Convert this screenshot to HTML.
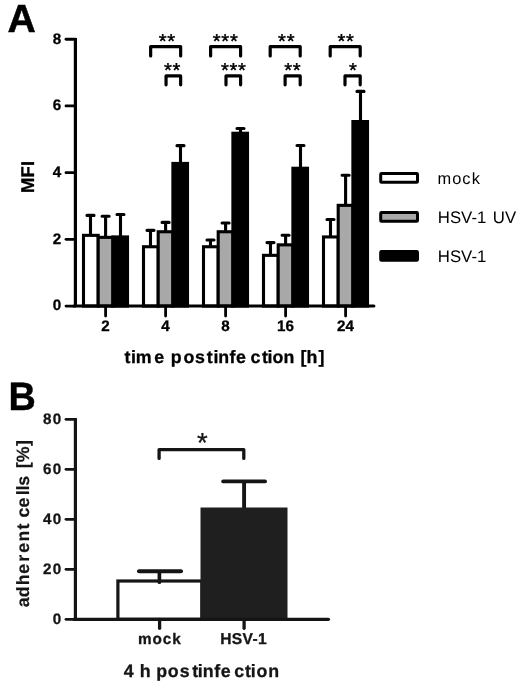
<!DOCTYPE html>
<html><head><meta charset="utf-8"><title>Figure</title>
<style>
html,body{margin:0;padding:0;background:#fff;}
body{width:520px;height:687px;overflow:hidden;font-family:"Liberation Sans",sans-serif;}
svg{display:block;will-change:transform}
text{text-rendering:geometricPrecision}
</style></head>
<body>
<svg width="520" height="687" viewBox="0 0 520 687">
<rect width="520" height="687" fill="#fff"/>
<g id="panelA">
<path d="M90.50 235.35V215.40M87.00 215.40H94.00" stroke="#000" stroke-width="3.1" stroke-linecap="round" fill="none"/>
<path d="M105.60 237.35V216.30M102.10 216.30H109.10" stroke="#000" stroke-width="3.1" stroke-linecap="round" fill="none"/>
<path d="M120.50 236.95V214.45M117.00 214.45H124.00" stroke="#000" stroke-width="3.1" stroke-linecap="round" fill="none"/>
<rect x="83.50" y="235.35" width="14.70" height="70.70" fill="#fff" stroke="#000" stroke-width="3.1"/>
<rect x="98.20" y="237.35" width="14.70" height="68.70" fill="#a8a8a8" stroke="#000" stroke-width="3.1"/>
<rect x="112.90" y="236.95" width="14.60" height="69.10" fill="#000" stroke="#000" stroke-width="3.1"/>
<path d="M150.50 246.75V230.35M147.00 230.35H154.00" stroke="#000" stroke-width="3.1" stroke-linecap="round" fill="none"/>
<path d="M165.60 231.75V222.40M162.10 222.40H169.10" stroke="#000" stroke-width="3.1" stroke-linecap="round" fill="none"/>
<path d="M180.50 163.45V145.65M177.00 145.65H184.00" stroke="#000" stroke-width="3.1" stroke-linecap="round" fill="none"/>
<rect x="143.50" y="246.75" width="14.70" height="59.30" fill="#fff" stroke="#000" stroke-width="3.1"/>
<rect x="158.20" y="231.75" width="14.70" height="74.30" fill="#a8a8a8" stroke="#000" stroke-width="3.1"/>
<rect x="172.90" y="163.45" width="14.60" height="142.60" fill="#000" stroke="#000" stroke-width="3.1"/>
<path d="M210.50 246.75V240.00M207.00 240.00H214.00" stroke="#000" stroke-width="3.1" stroke-linecap="round" fill="none"/>
<path d="M225.60 231.75V223.00M222.10 223.00H229.10" stroke="#000" stroke-width="3.1" stroke-linecap="round" fill="none"/>
<path d="M240.50 133.25V128.50M237.00 128.50H244.00" stroke="#000" stroke-width="3.1" stroke-linecap="round" fill="none"/>
<rect x="203.50" y="246.75" width="14.70" height="59.30" fill="#fff" stroke="#000" stroke-width="3.1"/>
<rect x="218.20" y="231.75" width="14.70" height="74.30" fill="#a8a8a8" stroke="#000" stroke-width="3.1"/>
<rect x="232.90" y="133.25" width="14.60" height="172.80" fill="#000" stroke="#000" stroke-width="3.1"/>
<path d="M270.50 255.35V242.60M267.00 242.60H274.00" stroke="#000" stroke-width="3.1" stroke-linecap="round" fill="none"/>
<path d="M285.60 244.85V235.30M282.10 235.30H289.10" stroke="#000" stroke-width="3.1" stroke-linecap="round" fill="none"/>
<path d="M300.50 168.25V145.45M297.00 145.45H304.00" stroke="#000" stroke-width="3.1" stroke-linecap="round" fill="none"/>
<rect x="263.50" y="255.35" width="14.70" height="50.70" fill="#fff" stroke="#000" stroke-width="3.1"/>
<rect x="278.20" y="244.85" width="14.70" height="61.20" fill="#a8a8a8" stroke="#000" stroke-width="3.1"/>
<rect x="292.90" y="168.25" width="14.60" height="137.80" fill="#000" stroke="#000" stroke-width="3.1"/>
<path d="M330.50 236.95V219.45M327.00 219.45H334.00" stroke="#000" stroke-width="3.1" stroke-linecap="round" fill="none"/>
<path d="M345.60 205.35V175.25M342.10 175.25H349.10" stroke="#000" stroke-width="3.1" stroke-linecap="round" fill="none"/>
<path d="M360.50 121.55V91.40M357.00 91.40H364.00" stroke="#000" stroke-width="3.1" stroke-linecap="round" fill="none"/>
<rect x="323.50" y="236.95" width="14.70" height="69.10" fill="#fff" stroke="#000" stroke-width="3.1"/>
<rect x="338.20" y="205.35" width="14.70" height="100.70" fill="#a8a8a8" stroke="#000" stroke-width="3.1"/>
<rect x="352.90" y="121.55" width="14.60" height="184.50" fill="#000" stroke="#000" stroke-width="3.1"/>
<path d="M75.4 38V306.05" stroke="#000" stroke-width="3.2" fill="none"/>
<path d="M73.80000000000001 306.05H373.9" stroke="#000" stroke-width="3.1" stroke-linecap="round" fill="none"/>
<path d="M66 306.05H75.4" stroke="#000" stroke-width="2.8" stroke-linecap="round" fill="none"/>
<text x="61.3" y="310.45" text-anchor="end" font-family="Liberation Sans, sans-serif" font-weight="bold" font-size="15.2" stroke="#000" stroke-width="0.3">0</text>
<path d="M66 239.35H75.4" stroke="#000" stroke-width="2.8" stroke-linecap="round" fill="none"/>
<text x="61.3" y="243.75" text-anchor="end" font-family="Liberation Sans, sans-serif" font-weight="bold" font-size="15.2" stroke="#000" stroke-width="0.3">2</text>
<path d="M66 172.65H75.4" stroke="#000" stroke-width="2.8" stroke-linecap="round" fill="none"/>
<text x="61.3" y="177.05" text-anchor="end" font-family="Liberation Sans, sans-serif" font-weight="bold" font-size="15.2" stroke="#000" stroke-width="0.3">4</text>
<path d="M66 105.95H75.4" stroke="#000" stroke-width="2.8" stroke-linecap="round" fill="none"/>
<text x="61.3" y="110.35" text-anchor="end" font-family="Liberation Sans, sans-serif" font-weight="bold" font-size="15.2" stroke="#000" stroke-width="0.3">6</text>
<path d="M66 39.25H75.4" stroke="#000" stroke-width="2.8" stroke-linecap="round" fill="none"/>
<text x="61.3" y="43.65" text-anchor="end" font-family="Liberation Sans, sans-serif" font-weight="bold" font-size="15.2" stroke="#000" stroke-width="0.3">8</text>
<path d="M105.60 306.05V316.1" stroke="#000" stroke-width="2.8" stroke-linecap="round" fill="none"/>
<text x="105.50" y="331.4" text-anchor="middle" font-family="Liberation Sans, sans-serif" font-weight="bold" font-size="15.2" stroke="#000" stroke-width="0.3">2</text>
<path d="M165.60 306.05V316.1" stroke="#000" stroke-width="2.8" stroke-linecap="round" fill="none"/>
<text x="165.50" y="331.4" text-anchor="middle" font-family="Liberation Sans, sans-serif" font-weight="bold" font-size="15.2" stroke="#000" stroke-width="0.3">4</text>
<path d="M225.60 306.05V316.1" stroke="#000" stroke-width="2.8" stroke-linecap="round" fill="none"/>
<text x="225.50" y="331.4" text-anchor="middle" font-family="Liberation Sans, sans-serif" font-weight="bold" font-size="15.2" stroke="#000" stroke-width="0.3">8</text>
<path d="M285.60 306.05V316.1" stroke="#000" stroke-width="2.8" stroke-linecap="round" fill="none"/>
<text x="285.50" y="331.4" text-anchor="middle" font-family="Liberation Sans, sans-serif" font-weight="bold" font-size="15.2" stroke="#000" stroke-width="0.3">16</text>
<path d="M345.60 306.05V316.1" stroke="#000" stroke-width="2.8" stroke-linecap="round" fill="none"/>
<text x="345.50" y="331.4" text-anchor="middle" font-family="Liberation Sans, sans-serif" font-weight="bold" font-size="15.2" stroke="#000" stroke-width="0.3">24</text>
<path d="M150.65 55.90V46.60H180.65V55.90" stroke="#000" stroke-width="3.2" stroke-linecap="round" stroke-linejoin="round" fill="none"/>
<text x="167.30" y="48.00" text-anchor="middle" font-family="Liberation Sans, sans-serif" font-size="20.2" letter-spacing="0.75" stroke="#000" stroke-width="0.4">**</text>
<path d="M166.05 84.80V75.95H180.65V84.80" stroke="#000" stroke-width="3.2" stroke-linecap="round" stroke-linejoin="round" fill="none"/>
<text x="172.60" y="77.00" text-anchor="middle" font-family="Liberation Sans, sans-serif" font-size="20.2" letter-spacing="0.75" stroke="#000" stroke-width="0.4">**</text>
<path d="M210.60 55.90V46.60H240.60V55.90" stroke="#000" stroke-width="3.2" stroke-linecap="round" stroke-linejoin="round" fill="none"/>
<text x="225.60" y="48.00" text-anchor="middle" font-family="Liberation Sans, sans-serif" font-size="20.2" letter-spacing="0.75" stroke="#000" stroke-width="0.4">***</text>
<path d="M226.00 84.80V75.95H240.60V84.80" stroke="#000" stroke-width="3.2" stroke-linecap="round" stroke-linejoin="round" fill="none"/>
<text x="233.80" y="77.00" text-anchor="middle" font-family="Liberation Sans, sans-serif" font-size="20.2" letter-spacing="0.75" stroke="#000" stroke-width="0.4">***</text>
<path d="M270.20 55.90V46.60H300.20V55.90" stroke="#000" stroke-width="3.2" stroke-linecap="round" stroke-linejoin="round" fill="none"/>
<text x="286.70" y="48.00" text-anchor="middle" font-family="Liberation Sans, sans-serif" font-size="20.2" letter-spacing="0.75" stroke="#000" stroke-width="0.4">**</text>
<path d="M285.10 84.80V75.95H300.20V84.80" stroke="#000" stroke-width="3.2" stroke-linecap="round" stroke-linejoin="round" fill="none"/>
<text x="292.80" y="77.00" text-anchor="middle" font-family="Liberation Sans, sans-serif" font-size="20.2" letter-spacing="0.75" stroke="#000" stroke-width="0.4">**</text>
<path d="M330.20 55.90V46.60H360.20V55.90" stroke="#000" stroke-width="3.2" stroke-linecap="round" stroke-linejoin="round" fill="none"/>
<text x="346.10" y="48.00" text-anchor="middle" font-family="Liberation Sans, sans-serif" font-size="20.2" letter-spacing="0.75" stroke="#000" stroke-width="0.4">**</text>
<path d="M345.00 84.80V75.95H360.20V84.80" stroke="#000" stroke-width="3.2" stroke-linecap="round" stroke-linejoin="round" fill="none"/>
<text x="353.20" y="77.00" text-anchor="middle" font-family="Liberation Sans, sans-serif" font-size="20.2" letter-spacing="0.75" stroke="#000" stroke-width="0.4">*</text>
<text x="124.43 131.06 135.73 154.20 164.10 170.83 183.50 194.97 206.68 213.56 218.33 229.40 236.00 250.60 262.08 267.46 272.40 283.43 294.30 300.40 306.46 318.48" y="362.8" font-family="Liberation Sans, sans-serif" font-weight="bold" font-size="17.8" stroke="#000" stroke-width="0.3">time postinfection [h]</text>
<text transform="translate(33.6 193.1) rotate(-90)" font-family="Liberation Sans, sans-serif" font-weight="bold" font-size="18.5" letter-spacing="0.133" stroke="#000" stroke-width="0.3">MFI</text>
<text x="7.5" y="31.8" font-family="Liberation Sans, sans-serif" font-weight="bold" font-size="39.2" stroke="#000" stroke-width="0.5">A</text>
<rect x="380.7" y="173.60" width="36.8" height="8.6" rx="0.8" fill="#fff" stroke="#000" stroke-width="3" stroke-linejoin="round"/>
<text x="437.5 452.2 462.3 471.8" y="183.60" font-family="Liberation Sans, sans-serif" font-size="16.4">mock</text>
<rect x="380.7" y="212.60" width="36.8" height="8.6" rx="0.8" fill="#a8a8a8" stroke="#000" stroke-width="3" stroke-linejoin="round"/>
<text x="437.8" y="222.50" font-family="Liberation Sans, sans-serif" font-size="16.8">HSV-1</text>
<text x="492.8" y="222.50" font-family="Liberation Sans, sans-serif" font-size="16.8">UV</text>
<rect x="380.7" y="251.60" width="36.8" height="8.6" rx="0.8" fill="#000" stroke="#000" stroke-width="3" stroke-linejoin="round"/>
<text x="437.8" y="261.50" font-family="Liberation Sans, sans-serif" font-size="16.8">HSV-1</text>
</g>
<g id="panelB">
<path d="M159.4 585V571.3" stroke="#151515" stroke-width="3.7" fill="none"/><path d="M139 571.25H181" stroke="#151515" stroke-width="4" stroke-linecap="round" fill="none"/>
<path d="M244.1 510V481.4" stroke="#151515" stroke-width="3.9" fill="none"/><path d="M223.2 481.4H265" stroke="#151515" stroke-width="3.9" stroke-linecap="round" fill="none"/>
<rect x="117.9" y="581" width="84" height="38.30" fill="#fff" stroke="#151515" stroke-width="3.2"/>
<rect x="200.5" y="507.5" width="87" height="113.40" fill="#1f1f1f"/>
<path d="M159.4 581V582.2" stroke="#151515" stroke-width="3.7" stroke-linecap="round"/>
<path d="M75.4 418V619.3" stroke="#151515" stroke-width="3.2" fill="none"/>
<path d="M73.80000000000001 619.3H328.4" stroke="#151515" stroke-width="3.3" stroke-linecap="round" fill="none"/>
<path d="M66 619.30H75.4" stroke="#151515" stroke-width="2.8" stroke-linecap="round" fill="none"/>
<text x="62.5" y="623.80" text-anchor="end" font-family="Liberation Sans, sans-serif" font-weight="bold" font-size="15.2" letter-spacing="1.3" fill="#151515" stroke="#151515" stroke-width="0.3">0</text>
<path d="M66 569.30H75.4" stroke="#151515" stroke-width="2.8" stroke-linecap="round" fill="none"/>
<text x="62.5" y="573.80" text-anchor="end" font-family="Liberation Sans, sans-serif" font-weight="bold" font-size="15.2" letter-spacing="1.3" fill="#151515" stroke="#151515" stroke-width="0.3">20</text>
<path d="M66 519.30H75.4" stroke="#151515" stroke-width="2.8" stroke-linecap="round" fill="none"/>
<text x="62.5" y="523.80" text-anchor="end" font-family="Liberation Sans, sans-serif" font-weight="bold" font-size="15.2" letter-spacing="1.3" fill="#151515" stroke="#151515" stroke-width="0.3">40</text>
<path d="M66 469.30H75.4" stroke="#151515" stroke-width="2.8" stroke-linecap="round" fill="none"/>
<text x="62.5" y="473.80" text-anchor="end" font-family="Liberation Sans, sans-serif" font-weight="bold" font-size="15.2" letter-spacing="1.3" fill="#151515" stroke="#151515" stroke-width="0.3">60</text>
<path d="M66 419.30H75.4" stroke="#151515" stroke-width="2.8" stroke-linecap="round" fill="none"/>
<text x="62.5" y="423.80" text-anchor="end" font-family="Liberation Sans, sans-serif" font-weight="bold" font-size="15.2" letter-spacing="1.3" fill="#151515" stroke="#151515" stroke-width="0.3">80</text>
<path d="M159.6 619.3V628.3" stroke="#151515" stroke-width="3.3" stroke-linecap="round" fill="none"/>
<text x="138.1" y="644.4" font-family="Liberation Sans, sans-serif" font-weight="bold" font-size="15.3" letter-spacing="0.9" fill="#151515" stroke="#151515" stroke-width="0.3">mock</text>
<path d="M244.1 619.3V628.3" stroke="#151515" stroke-width="3.3" stroke-linecap="round" fill="none"/>
<text x="220.19" y="644.4" font-family="Liberation Sans, sans-serif" font-weight="bold" font-size="15.6" letter-spacing="0.335" fill="#151515" stroke="#151515" stroke-width="0.3">HSV-1</text>
<path d="M159.1 458.4V449.6H243.8V458.4" stroke="#151515" stroke-width="3.3" stroke-linecap="round" stroke-linejoin="round" fill="none"/>
<text x="202.3" y="452.1" text-anchor="middle" font-family="Liberation Sans, sans-serif" font-size="27.5" stroke="#151515" stroke-width="0.3" fill="#151515">*</text>
<text x="123.83 133.73 139.71 150.58 156.23 167.80 179.77 192.28 197.66 202.78 214.25 220.80 234.20 244.88 250.76 256.60 268.33" y="677.1" font-family="Liberation Sans, sans-serif" font-weight="bold" font-size="17.8" fill="#151515" stroke="#151515" stroke-width="0.3">4 h postinfection</text>
<text transform="translate(29.3 0) rotate(-90)" x="-607.22 -597.23 -585.24 -573.85 -561.67 -552.75 -541.42 -529.52 -523.59 -517.45 -507.60 -495.34 -490.44 -485.73 -475.83 -468.20 -462.24 -446.02" y="0" font-family="Liberation Sans, sans-serif" font-weight="bold" font-size="17.8" fill="#151515" stroke="#151515" stroke-width="0.2">adherent cells [%]</text>
<text transform="translate(8.6 410.1) scale(0.955 1)" font-family="Liberation Sans, sans-serif" font-weight="bold" font-size="39.6" fill="#000" stroke="#000" stroke-width="0.4">B</text>
</g>
</svg>
</body></html>
